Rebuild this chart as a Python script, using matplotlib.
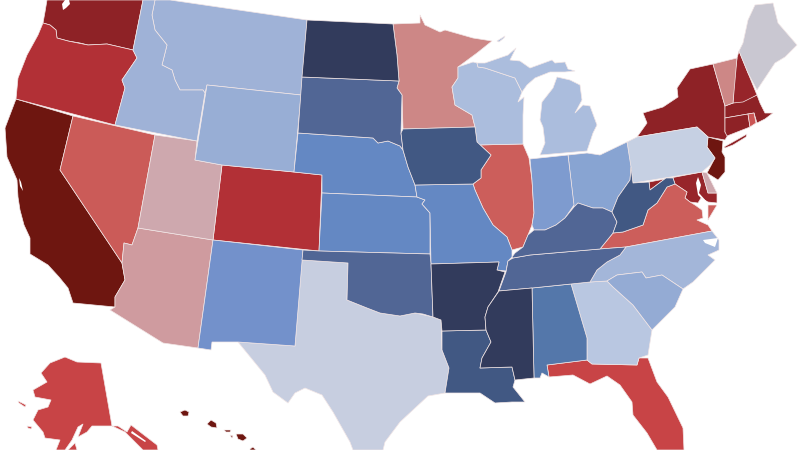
import matplotlib
matplotlib.use('Agg')
import matplotlib.pyplot as plt
from matplotlib.colors import LinearSegmentedColormap

# share per state, 0 = deep blue, 1 = deep red (estimated from the shading)
states = ['CA', 'NJ', 'HI', 'WA', 'NY', 'MA', 'CT', 'NH', 'RI', 'MD', 'OR', 'CO', 'FL', 'AK', 'NV', 'VA', 'IL',
          'MN', 'VT', 'AZ', 'UT', 'DE', 'ME', 'TX', 'PA', 'GA', 'WI', 'MI', 'NC', 'MT', 'ID', 'WY', 'SC', 'OH',
          'IN', 'NM', 'NE', 'KS', 'MO', 'AL', 'TN', 'KY', 'OK', 'SD', 'IA', 'LA', 'WV', 'AR', 'MS', 'ND']
values = [1.0, 1.0, 1.0, 0.90, 0.90, 0.90, 0.90, 0.88, 0.72, 0.88, 0.82, 0.82, 0.76, 0.76, 0.71, 0.70, 0.70,
          0.64, 0.64, 0.60, 0.58, 0.58, 0.54, 0.51, 0.50, 0.47, 0.44, 0.44, 0.40, 0.38, 0.38, 0.36, 0.35, 0.32,
          0.29, 0.26, 0.20, 0.20, 0.20, 0.14, 0.10, 0.10, 0.10, 0.10, 0.05, 0.05, 0.05, 0.0, 0.0, 0.0]

# state outlines, traced in image pixels
outlines = {
    'WA': [[(47, 0), (45, 12), (43, 23), (50, 25), (56, 30), (57, 38), (68, 41), (80, 43), (88, 45), (107, 44), (133, 50), (143, 0)]],
    'OR': [[(43, 23), (50, 25), (56, 30), (57, 38), (68, 41), (88, 45), (107, 44), (133, 50), (137, 58), (122, 80), (125, 88), (115, 125), (16, 99), (18, 78), (27, 55), (38, 35)]],
    'CA': [[(16, 99), (73, 116), (60, 170), (122, 263), (125, 280), (115, 297), (115, 307), (73, 303), (68, 288), (59, 277), (48, 265), (30, 254), (30, 238), (24, 225), (20, 210), (18, 197), (17, 180), (7, 157), (5, 128)]],
    'NV': [[(73, 116), (155, 135), (138, 228), (132, 245), (124, 243), (122, 263), (60, 170)]],
    'UT': [[(155, 135), (197, 141), (195, 160), (222, 165), (213, 240), (138, 228)]],
    'ID': [[(143, 0), (155, 0), (152, 15), (155, 30), (167, 45), (162, 65), (172, 70), (175, 80), (180, 90), (203, 90), (205, 93), (197, 141), (115, 125), (125, 88), (122, 80), (137, 58), (133, 50)]],
    'MT': [[(155, 0), (170, 0), (307, 20), (301, 95), (207, 85), (205, 93), (203, 90), (180, 90), (175, 80), (172, 70), (162, 65), (167, 45), (155, 30), (152, 15)]],
    'WY': [[(207, 85), (301, 95), (294, 172), (222, 165), (195, 160)]],
    'CO': [[(222, 165), (294, 172), (322, 175), (319, 251), (213, 240)]],
    'ND': [[(307, 20), (393, 24), (397, 55), (399, 81), (302, 77)]],
    'SD': [[(302, 77), (399, 81), (397, 88), (402, 95), (401, 133), (403, 150), (400, 146), (388, 141), (378, 143), (373, 138), (298, 133)]],
    'NE': [[(298, 133), (373, 138), (378, 143), (388, 141), (400, 146), (403, 150), (408, 167), (415, 185), (417, 197), (322, 193), (322, 175), (294, 172)]],
    'KS': [[(322, 193), (417, 197), (425, 200), (422, 204), (430, 213), (430, 254), (319, 251)]],
    'OK': [[(303, 250), (319, 251), (430, 254), (431, 264), (433, 317), (423, 314), (415, 313), (400, 316), (380, 313), (367, 308), (347, 300), (348, 263), (302, 260)]],
    'TX': [[(302, 260), (348, 263), (347, 300), (367, 308), (380, 313), (400, 316), (415, 313), (433, 317), (441, 320), (442, 350), (449, 368), (445, 393), (428, 396), (400, 422), (385, 442), (383, 450), (353, 450), (350, 442), (333, 412), (322, 395), (305, 388), (295, 393), (288, 403), (273, 392), (265, 375), (238, 342), (295, 346)]],
    'NM': [[(213, 240), (303, 250), (295, 346), (238, 342), (212, 342), (211, 350), (198, 348)]],
    'AZ': [[(138, 228), (213, 240), (198, 348), (163, 343), (110, 310), (115, 307), (115, 297), (125, 280), (122, 263), (124, 243), (132, 245)]],
    'MN': [[(393, 24), (420, 23), (420, 15), (425, 25), (440, 32), (445, 30), (473, 38), (492, 41), (477, 53), (458, 67), (458, 78), (452, 87), (455, 105), (472, 115), (475, 127), (403, 129), (402, 95), (397, 88), (399, 81), (397, 55)]],
    'IA': [[(403, 129), (475, 127), (477, 142), (491, 155), (481, 170), (481, 178), (473, 184), (415, 185), (408, 167), (403, 150), (401, 133)]],
    'MO': [[(415, 185), (473, 184), (475, 190), (483, 208), (493, 225), (507, 237), (512, 250), (512, 257), (508, 261), (506, 271), (497, 270), (499, 262), (431, 264), (430, 213), (422, 204), (425, 200), (417, 197)]],
    'AR': [[(431, 264), (499, 262), (497, 270), (505, 272), (498, 292), (488, 307), (485, 317), (486, 330), (442, 331), (441, 320), (433, 317)]],
    'LA': [[(442, 331), (486, 330), (491, 342), (482, 358), (480, 368), (512, 367), (515, 380), (513, 387), (525, 402), (512, 402), (495, 403), (480, 393), (445, 393), (449, 368), (442, 350)]],
    'WI': [[(458, 67), (473, 62), (477, 63), (478, 67), (485, 68), (515, 78), (522, 92), (518, 102), (524, 97), (523, 115), (523, 144), (477, 145), (477, 142), (475, 127), (472, 115), (455, 105), (452, 87), (458, 78)]],
    'MI': [[(478, 67), (477, 63), (485, 63), (508, 55), (516, 48), (510, 60), (520, 61), (530, 68), (552, 60), (555, 63), (565, 62), (568, 69), (575, 71), (565, 72), (550, 72), (535, 78), (527, 85), (522, 92), (515, 78), (485, 68)],
           [(557, 77), (570, 80), (580, 85), (582, 100), (575, 113), (583, 105), (590, 106), (597, 125), (593, 133), (587, 151), (540, 155), (545, 143), (543, 127), (540, 120), (542, 102), (553, 88)],
           [(497, 41), (505, 36), (504, 38), (499, 42)]],
    'IL': [[(477, 145), (523, 144), (529, 158), (532, 180), (534, 213), (532, 225), (528, 235), (523, 247), (512, 250), (507, 237), (493, 225), (483, 208), (475, 190), (473, 184), (481, 178), (481, 170), (491, 155), (477, 142)]],
    'IN': [[(530, 159), (568, 155), (574, 205), (565, 218), (556, 225), (545, 230), (534, 230), (532, 225), (534, 213), (532, 180)]],
    'OH': [[(568, 155), (587, 153), (600, 155), (627, 142), (631, 167), (630, 180), (618, 197), (612, 212), (603, 208), (593, 208), (578, 203), (574, 207)]],
    'KY': [[(512, 257), (515, 253), (523, 247), (528, 235), (534, 230), (545, 230), (556, 225), (565, 218), (574, 207), (578, 203), (593, 208), (603, 208), (612, 212), (617, 222), (613, 233), (600, 249), (530, 255), (513, 258)]],
    'TN': [[(513, 258), (530, 255), (600, 249), (626, 247), (620, 255), (607, 262), (597, 270), (590, 282), (571, 284), (532, 288), (499, 291), (506, 272), (508, 261)]],
    'MS': [[(499, 291), (532, 288), (534, 378), (515, 380), (512, 367), (480, 368), (482, 358), (491, 342), (486, 330), (485, 317), (488, 307)]],
    'AL': [[(532, 288), (571, 284), (587, 338), (587, 360), (547, 365), (549, 377), (542, 373), (540, 378), (534, 378)]],
    'GA': [[(571, 284), (590, 282), (607, 281), (613, 287), (633, 305), (652, 330), (648, 355), (639, 358), (637, 365), (592, 364), (587, 360), (587, 338)]],
    'SC': [[(607, 281), (617, 275), (642, 272), (646, 278), (662, 275), (683, 289), (675, 307), (652, 330), (633, 305), (613, 287)]],
    'NC': [[(626, 247), (712, 231), (719, 240), (719, 250), (708, 255), (715, 260), (708, 267), (693, 282), (683, 289), (662, 275), (646, 278), (642, 272), (617, 275), (607, 281), (590, 282), (597, 270), (607, 262), (620, 255)]],
    'FL': [[(547, 365), (587, 360), (592, 364), (637, 365), (639, 358), (648, 358), (657, 382), (668, 397), (683, 428), (684, 450), (657, 450), (647, 433), (633, 415), (632, 402), (620, 385), (607, 376), (590, 384), (573, 375), (549, 377)]],
    'VA': [[(600, 249), (613, 233), (623, 232), (643, 225), (648, 210), (657, 203), (667, 187), (675, 184), (687, 192), (685, 198), (690, 202), (695, 205), (702, 210), (703, 218), (697, 220), (708, 225), (712, 231), (626, 247)],
           [(708, 205), (717, 205), (708, 220)]],
    'WV': [[(631, 167), (633, 183), (649, 182), (650, 190), (666, 178), (673, 178), (675, 184), (667, 187), (657, 203), (648, 210), (643, 225), (623, 232), (613, 233), (617, 222), (612, 212), (618, 197), (630, 180)]],
    'PA': [[(627, 142), (637, 137), (697, 127), (708, 137), (707, 147), (715, 158), (710, 165), (702, 172), (633, 183)]],
    'NY': [[(637, 137), (647, 123), (643, 113), (663, 107), (678, 97), (677, 88), (690, 69), (713, 64), (725, 106), (725, 132), (728, 135), (725, 140), (708, 137), (697, 127)],
           [(724, 147), (747, 134), (746, 137), (733, 145), (725, 148)]],
    'NJ': [[(708, 137), (723, 141), (722, 152), (725, 157), (725, 172), (718, 180), (707, 173), (715, 158), (707, 147)]],
    'DE': [[(702, 172), (707, 173), (717, 193), (708, 193)]],
    'MD': [[(649, 182), (702, 172), (708, 193), (717, 193), (717, 203), (708, 202), (701, 198), (698, 203), (690, 202), (685, 198), (687, 192), (675, 184), (673, 178), (666, 178), (650, 190)]],
    'VT': [[(713, 64), (737, 58), (733, 103), (725, 106)]],
    'NH': [[(739, 51), (748, 73), (757, 95), (743, 102), (733, 103), (734, 80), (737, 58)]],
    'ME': [[(739, 51), (743, 43), (748, 20), (755, 5), (773, 3), (778, 23), (797, 45), (785, 57), (775, 63), (757, 90), (748, 73)]],
    'MA': [[(725, 106), (733, 103), (757, 95), (760, 103), (765, 113), (773, 113), (765, 119), (757, 123), (754, 113), (748, 114), (725, 118)]],
    'CT': [[(725, 118), (748, 114), (750, 127), (727, 136), (725, 132)]],
    'RI': [[(748, 114), (754, 113), (756, 123), (750, 127)]],
    'AK': [[(65, 357), (50, 363), (41, 373), (47, 382), (33, 390), (35, 397), (51, 400), (48, 407), (38, 410), (33, 420), (43, 432), (45, 438), (60, 440), (56, 450), (65, 450), (72, 440), (78, 427), (83, 424), (78, 437), (87, 432), (92, 426), (112, 426), (101, 363), (77, 362)],
           [(112, 426), (118, 426), (127, 432), (131, 425), (157, 445), (158, 450), (143, 450), (131, 438), (125, 432)],
           [(68, 450), (75, 443), (77, 450)],
           [(18, 401), (26, 405), (25, 407), (19, 403)],
           [(27, 426), (32, 427), (31, 429), (28, 428)]],
    'HI': [[(180, 412), (185, 410), (189, 412), (188, 416), (183, 416)],
           [(207, 424), (211, 420), (216, 423), (217, 428), (211, 427)],
           [(224, 430), (231, 430), (230, 432), (226, 432)],
           [(230, 435), (233, 436), (232, 438)],
           [(236, 434), (243, 434), (247, 438), (243, 441), (238, 439)],
           [(250, 449), (253, 447), (256, 450), (250, 450)]],
}

# lakes and sounds cut out of the state shapes
cutouts = [
    [(62, 4), (65, 0), (69, 0), (70, 4), (66, 8), (63, 10)],
    [(696, 183), (698, 177), (701, 185), (699, 193), (707, 202), (708, 203), (703, 200), (698, 195)],
    [(19, 178), (21, 182), (23, 191), (20, 186)],
    [(703, 240), (718, 238), (715, 247), (705, 243)],
    [(132, 431), (146, 441), (145, 442), (131, 433)],
]

shares = [0.0, 0.05, 0.10, 0.14, 0.20, 0.26, 0.32, 0.38, 0.44, 0.50, 0.54, 0.59, 0.64, 0.70, 0.76, 0.82, 0.90, 1.0]
shades = ['#323b5c', '#425a85', '#526796', '#5478ab', '#6488c3', '#7391cb', '#89a5d2', '#9fb2d7', '#abbddd',
          '#c6d0e4', '#c9c8d2', '#cfa0a6', '#cd8785', '#cc5f5c', '#c84446', '#b23036', '#8f2226', '#6e1610']
cmap = LinearSegmentedColormap.from_list('lean', list(zip(shares, shades)))

fig = plt.figure(figsize=(8, 4.5), dpi=100)
ax = fig.add_axes([0, 0, 1, 1])

for state, value in zip(states, values):
    for part in outlines[state]:
        xs, ys = zip(*part)
        # same colour on the edge first so that neighbours close up, then the thin light border
        ax.fill(xs, ys, facecolor=cmap(value), edgecolor='#f2e6e6', linewidth=0.5, joinstyle='round')

for hole in cutouts:
    xs, ys = zip(*hole)
    ax.fill(xs, ys, facecolor='white', edgecolor='none')

ax.set_xlim(0, 800)
ax.set_ylim(450, 0)
ax.axis('off')

fig.savefig('out.png', dpi=100)
